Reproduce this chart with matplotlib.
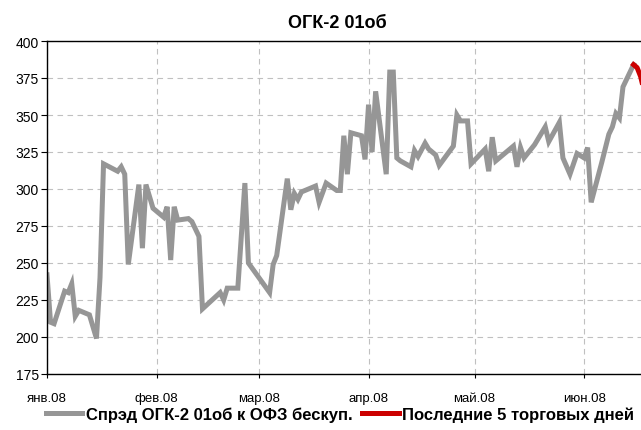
import pandas as pd
import matplotlib
matplotlib.use("Agg")
import matplotlib.pyplot as plt

plt.rcParams["font.family"] = ["Liberation Sans Narrow", "Liberation Sans", "DejaVu Sans"]

# спрэд ОГК-2 01об к ОФЗ, б.п.
dates = ["2008-01-01", "2008-01-02", "2008-01-03", "2008-01-06", "2008-01-07", "2008-01-08",
         "2008-01-09", "2008-01-10", "2008-01-13", "2008-01-15", "2008-01-16", "2008-01-17",
         "2008-01-21", "2008-01-22", "2008-01-23", "2008-01-24", "2008-01-27", "2008-01-28",
         "2008-01-29", "2008-01-31", "2008-02-03", "2008-02-04", "2008-02-05", "2008-02-06",
         "2008-02-07", "2008-02-10", "2008-02-11", "2008-02-13", "2008-02-14", "2008-02-19",
         "2008-02-20", "2008-02-21", "2008-02-24", "2008-02-26", "2008-02-27", "2008-03-04",
         "2008-03-05", "2008-03-06", "2008-03-09", "2008-03-10", "2008-03-11", "2008-03-12",
         "2008-03-13", "2008-03-17", "2008-03-18", "2008-03-20", "2008-03-23", "2008-03-24",
         "2008-03-25", "2008-03-26", "2008-03-27", "2008-03-30", "2008-03-31", "2008-04-01",
         "2008-04-02", "2008-04-03", "2008-04-06", "2008-04-07", "2008-04-08", "2008-04-09",
         "2008-04-10", "2008-04-13", "2008-04-14", "2008-04-15", "2008-04-17", "2008-04-18",
         "2008-04-20", "2008-04-21", "2008-04-25", "2008-04-26", "2008-04-27", "2008-04-29",
         "2008-04-30", "2008-05-04", "2008-05-05", "2008-05-06", "2008-05-07", "2008-05-12",
         "2008-05-13", "2008-05-14", "2008-05-15", "2008-05-18", "2008-05-21", "2008-05-22",
         "2008-05-25", "2008-05-26", "2008-05-28", "2008-05-30", "2008-06-01", "2008-06-02",
         "2008-06-03", "2008-06-06", "2008-06-08", "2008-06-09", "2008-06-10", "2008-06-11",
         "2008-06-12", "2008-06-15"]
spread = [242, 210, 209, 231, 230, 236, 214, 218, 215, 199, 240, 317,
          312, 315, 310, 249, 303, 260, 303, 287, 281, 288, 252, 288,
          279, 280, 278, 268, 219, 230, 225, 233, 233, 304, 250, 230,
          249, 255, 307, 286, 297, 293, 298, 302, 291, 304, 299, 299,
          336, 310, 338, 336, 320, 357, 325, 366, 310, 379, 379, 321,
          319, 315, 326, 322, 331, 327, 323, 316, 329, 350, 346, 346,
          317, 327, 312, 335, 319, 329, 315, 328, 321, 330, 342, 332,
          345, 321, 310, 324, 321, 328, 291, 318, 337, 342, 351, 348,
          369, 384]

last_dates = ["2008-06-15", "2008-06-16", "2008-06-17", "2008-06-18", "2008-06-19"]
last_spread = [384, 382, 376, 366, 358]

month_ticks = ["2008-01-01", "2008-02-01", "2008-03-01", "2008-04-01", "2008-05-01", "2008-06-01"]
month_labels = ["янв.08", "фев.08", "мар.08", "апр.08", "май.08", "июн.08"]


def main():
    fig = plt.figure(figsize=(6.41, 4.31), dpi=100)
    ax = fig.add_axes([47 / 641, 1 - 375 / 431, 1 - 47 / 641, (375 - 42) / 431])

    ax.plot(pd.to_datetime(dates), spread, color="#969696", linewidth=3.6,
            solid_joinstyle="miter", label="Спрэд ОГК-2 01об к ОФЗ бескуп.")
    ax.plot(pd.to_datetime(last_dates), last_spread, color="#cc0000", linewidth=3.6,
            label="Последние 5 торговых дней")

    ax.set_ylim(175, 400)
    ax.set_yticks(range(175, 401, 25))
    ax.set_xlim(pd.Timestamp("2008-01-01"), pd.Timestamp("2008-01-01") + pd.Timedelta(days=168.1))
    ax.set_xticks(pd.to_datetime(month_ticks))
    ax.set_xticklabels(month_labels)

    ax.grid(True, color="#c0c0c0", linestyle=(0, (5, 4)), linewidth=0.8)
    ax.spines["right"].set_visible(False)
    for s in ["top", "left", "bottom"]:
        ax.spines[s].set_linewidth(1.0)
    ax.tick_params(axis="y", direction="out", length=4, labelsize=10, pad=2)
    ax.tick_params(axis="x", direction="out", length=3, labelsize=9.5, pad=10)

    fig.text(337 / 641, 1 - 24 / 431, "ОГК-2 01об", ha="center", va="center",
             fontsize=13, fontweight="bold")

    fig.legend(loc="center", bbox_to_anchor=(340 / 641, 1 - 415 / 431), ncol=2,
               frameon=False, prop={"weight": "bold", "size": 12},
               handlelength=2.2, handletextpad=0.2, columnspacing=0.6)

    fig.savefig("out.png", dpi=100)


if __name__ == '__main__':
    main()
